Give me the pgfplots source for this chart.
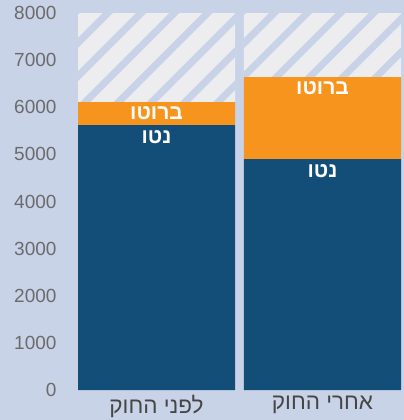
\documentclass[border=0pt]{standalone}
\usepackage{pgfplots}
\pgfplotsset{compat=1.18}
\usetikzlibrary{patterns.meta}
\usepackage{fontspec}
\setmainfont{Liberation Sans}
\newfontfamily\hebfont[Script=Hebrew]{Liberation Sans}
\TeXXeTstate=1
\definecolor{bgc}{RGB}{201,211,232}
\definecolor{netc}{RGB}{19,78,121}
\definecolor{grossc}{RGB}{247,148,30}
\definecolor{hatchc}{RGB}{237,237,240}
\definecolor{tickc}{RGB}{107,107,107}
\definecolor{catc}{RGB}{70,70,70}
\begin{document}
\begin{tikzpicture}
\fill[bgc] (0,0) rectangle (404bp,420bp);
\begin{axis}[
  at={(78bp,30bp)}, anchor=south west,
  scale only axis, width=323bp, height=377bp,
  xmin=-0.473, xmax=1.473, ymin=0, ymax=8000,
  ybar stacked, bar width=0.946,
  axis line style={draw=none}, major tick length=0pt,
  xtick={0,1}, xticklabels={{\hebfont\beginR לפני החוק\endR},{\hebfont\beginR אחרי החוק\endR}},
  xticklabel style={font=\fontsize{22.5bp}{24bp}\selectfont, text=catc, yshift=-2bp},
  ytick={0,1000,...,8000},
  yticklabel style={font=\fontsize{19bp}{21bp}\selectfont, text=tickc, anchor=east, xshift=-18bp},
  /pgf/number format/1000 sep={},
  /pgf/number format/assume math mode=true,
  clip=false,
]
\addplot[fill=netc, draw=none] coordinates {(0,5620) (1,4900)};
\addplot[fill=grossc, draw=none] coordinates {(0,490) (1,1740)};
\addplot[fill=hatchc, draw=none, postaction={pattern={Lines[angle=45,distance=23.5bp,line width=7bp]}, pattern color=bgc}] coordinates {(0,1890) (1,1360)};
\coordinate (g0) at (axis cs:0,6110);
\coordinate (g1) at (axis cs:1,6640);
\coordinate (n0) at (axis cs:0,5620);
\coordinate (n1) at (axis cs:1,4900);
\end{axis}
\begin{scope}[every node/.style={text=white, font=\hebfont\fontsize{21bp}{23bp}\selectfont\bfseries}]
\node at ([yshift=-11bp]g0) {\beginR ברוטו\endR};
\node at ([yshift=-11bp]g1) {\beginR ברוטו\endR};
\node at ([yshift=-12bp]n0) {\beginR נטו\endR};
\node at ([yshift=-12bp]n1) {\beginR נטו\endR};
\end{scope}
\pgfresetboundingbox
\useasboundingbox (0,0) rectangle (404bp,420bp);
\end{tikzpicture}
\end{document}
